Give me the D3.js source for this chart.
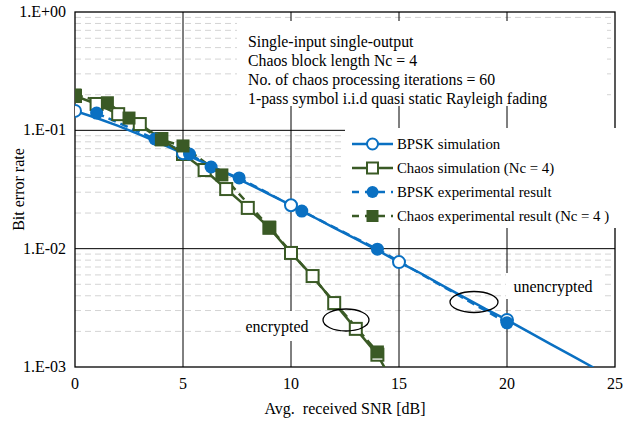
<!DOCTYPE html>
<html>
<head>
<meta charset="utf-8">
<script src="https://cdn.jsdelivr.net/npm/d3@7"></script>
<style>
  body { margin: 0; background: #fff; }
  text { font-family: "Liberation Serif", "Times New Roman", serif; fill: #000; }
</style>
</head>
<body>
<script>
// data
const bpskSimSnr = [0, 1, 2, 3, 4, 5, 6, 7, 8, 9, 10, 11, 12, 13, 14, 15, 16, 17, 18, 19, 20, 21, 22, 23, 24];
const bpskSimBer = [0.146, 0.127, 0.109, 0.092, 0.077, 0.064, 0.053, 0.0435, 0.0355, 0.0288, 0.0233, 0.0187,
    0.0150, 0.0121, 0.0097, 0.0077, 0.0062, 0.0049, 0.0039, 0.0031, 0.0025, 0.00198, 0.00157, 0.00125, 0.00099];
const bpskMarkSnr = [0, 5, 10, 15, 20];

const chaosSimSnr = [0, 1, 2, 3, 4, 5, 6, 7, 8, 9, 10, 11, 12, 13, 14, 15];
const chaosSimBer = [0.195, 0.167, 0.137, 0.113, 0.0845, 0.0631, 0.0462, 0.0319, 0.0221, 0.0150, 0.0092,
    0.00587, 0.00347, 0.00210, 0.00127, 0.0006];

const bpskExpSnr = [1, 3.7, 5.3, 6.3, 7.6, 10.5, 14, 20];
const bpskExpBer = [0.14, 0.0845, 0.063, 0.049, 0.0396, 0.0208, 0.0099, 0.00236];

const chaosExpSnr = [0, 1.5, 2.5, 4, 5, 6.8, 9, 14];
const chaosExpBer = [0.199, 0.171, 0.127, 0.083, 0.0738, 0.042, 0.0152, 0.00134];

const xTicks = [0, 5, 10, 15, 20, 25];
const yTicks = [1, 0.1, 0.01, 0.001];
const yTickLabels = ["1.E+00", "1.E-01", "1.E-02", "1.E-03"];

const infoLines = [
    "Single-input single-output",
    "Chaos block length Nc = 4",
    "No. of chaos processing iterations = 60",
    "1-pass symbol i.i.d quasi static Rayleigh fading"
];
const legendLabels = ["BPSK simulation", "Chaos simulation (Nc = 4)", "BPSK experimental result", "Chaos experimental result (Nc = 4 )"];

const BLUE = "#0A70C2";
const GREEN = "#3A5A25";
const FS = "16px";

const W = 638, H = 423;
const pLeft = 75, pRight = 615, pTop = 12, pBottom = 367;

const x = d3.scaleLinear().domain([0, 25]).range([pLeft, pRight]);
const y = d3.scaleLog().domain([0.001, 1]).range([pBottom, pTop]);

const svg = d3.select("body").append("svg").attr("width", W).attr("height", H)
    .attr("font-family", "Liberation Serif, serif");

svg.append("defs").append("clipPath").attr("id", "plot")
    .append("rect").attr("x", pLeft).attr("y", pTop).attr("width", pRight - pLeft).attr("height", pBottom - pTop);

// minor grid
const minor = [];
[0.001, 0.01, 0.1].forEach(d => { for (let k = 2; k <= 9; k++) minor.push(d * k); });
svg.append("g").selectAll("line").data(minor).join("line")
    .attr("x1", pLeft).attr("x2", pRight)
    .attr("y1", d => y(d)).attr("y2", d => y(d))
    .attr("stroke", "#d4d4d4").attr("stroke-width", 1).attr("stroke-dasharray", "6,4");

// major grid
svg.append("g").selectAll("line").data([0.1, 0.01]).join("line")
    .attr("x1", pLeft).attr("x2", pRight)
    .attr("y1", d => y(d)).attr("y2", d => y(d))
    .attr("stroke", "#000").attr("stroke-width", 1);
svg.append("g").selectAll("line").data([5, 10, 15, 20]).join("line")
    .attr("x1", d => x(d)).attr("x2", d => x(d))
    .attr("y1", pTop).attr("y2", pBottom)
    .attr("stroke", "#000").attr("stroke-width", 1);

// white boxes behind the annotation texts
svg.append("rect").attr("x", 237).attr("y", 21).attr("width", 370).attr("height", 85).attr("fill", "#fff");
svg.append("rect").attr("x", 242).attr("y", 311).attr("width", 72).attr("height", 30).attr("fill", "#fff");
svg.append("rect").attr("x", 506).attr("y", 273).attr("width", 96).attr("height", 26).attr("fill", "#fff");

// plot border
svg.append("rect").attr("x", pLeft).attr("y", pTop).attr("width", pRight - pLeft).attr("height", pBottom - pTop)
    .attr("fill", "none").attr("stroke", "#000").attr("stroke-width", 1.3);

// axes labels
svg.append("g").selectAll("text").data(xTicks).join("text")
    .attr("x", d => x(d)).attr("y", 389).attr("text-anchor", "middle")
    .style("font-size", FS).text(d => d);
svg.append("g").selectAll("text").data(yTicks).join("text")
    .attr("x", 66).attr("y", d => y(d) + 5).attr("text-anchor", "end")
    .style("font-size", FS).text((d, i) => yTickLabels[i]);
svg.append("text").attr("x", 345).attr("y", 414).attr("text-anchor", "middle")
    .style("font-size", FS).style("white-space", "pre").text("Avg.  received SNR [dB]");
svg.append("text").attr("transform", "translate(24," + (pTop + pBottom) / 2 + ") rotate(-90)")
    .attr("text-anchor", "middle").style("font-size", FS).text("Bit error rate");

// info text
svg.append("g").selectAll("text").data(infoLines).join("text")
    .attr("x", 248).attr("y", (d, i) => 47 + i * 19)
    .style("font-size", "15.8px").text(d => d);

// data
const plot = svg.append("g").attr("clip-path", "url(#plot)");
const line = d3.line().x(d => x(d[0])).y(d => y(d[1]));

const bpskSim = bpskSimSnr.map((s, i) => [s, bpskSimBer[i]]);
const chaosSim = chaosSimSnr.map((s, i) => [s, chaosSimBer[i]]);
const bpskExp = bpskExpSnr.map((s, i) => [s, bpskExpBer[i]]);
const chaosExp = chaosExpSnr.map((s, i) => [s, chaosExpBer[i]]);

plot.append("path").attr("d", line(bpskExp)).attr("fill", "none")
    .attr("stroke", BLUE).attr("stroke-width", 2.5).attr("stroke-dasharray", "8,5");
plot.append("path").attr("d", line(chaosExp)).attr("fill", "none")
    .attr("stroke", GREEN).attr("stroke-width", 2.5).attr("stroke-dasharray", "8,5");
plot.append("path").attr("d", line(bpskSim)).attr("fill", "none")
    .attr("stroke", BLUE).attr("stroke-width", 2.5);
plot.append("path").attr("d", line(chaosSim)).attr("fill", "none")
    .attr("stroke", GREEN).attr("stroke-width", 2.5);

const sq = 12;
plot.append("g").selectAll("rect").data(chaosSim.filter(d => d[0] <= 14)).join("rect")
    .attr("x", d => x(d[0]) - sq / 2).attr("y", d => y(d[1]) - sq / 2)
    .attr("width", sq).attr("height", sq)
    .attr("fill", "#fff").attr("stroke", GREEN).attr("stroke-width", 2);
plot.append("g").selectAll("circle").data(bpskSim.filter(d => bpskMarkSnr.includes(d[0]))).join("circle")
    .attr("cx", d => x(d[0])).attr("cy", d => y(d[1])).attr("r", 6)
    .attr("fill", "#fff").attr("stroke", BLUE).attr("stroke-width", 2);
plot.append("g").selectAll("circle").data(bpskExp).join("circle")
    .attr("cx", d => x(d[0])).attr("cy", d => y(d[1])).attr("r", 6.5)
    .attr("fill", BLUE);
plot.append("g").selectAll("rect").data(chaosExp).join("rect")
    .attr("x", d => x(d[0]) - 6.5).attr("y", d => y(d[1]) - 6.5)
    .attr("width", 13).attr("height", 13).attr("fill", GREEN);

// annotations
svg.append("text").attr("x", 277).attr("y", 332).attr("text-anchor", "middle")
    .style("font-size", FS).text("encrypted");
svg.append("text").attr("x", 553).attr("y", 292).attr("text-anchor", "middle")
    .style("font-size", FS).text("unencrypted");
svg.append("ellipse").attr("cx", 346).attr("cy", 320).attr("rx", 23).attr("ry", 11)
    .attr("fill", "none").attr("stroke", "#000").attr("stroke-width", 1.3);
svg.append("ellipse").attr("cx", 474).attr("cy", 302).attr("rx", 24).attr("ry", 10.5)
    .attr("fill", "none").attr("stroke", "#000").attr("stroke-width", 1.3);

// legend
const lg = svg.append("g");
lg.append("rect").attr("x", 345).attr("y", 128).attr("width", 282).attr("height", 100).attr("fill", "#fff");
const legendItems = [
    { color: BLUE, dash: null, mark: "openCircle" },
    { color: GREEN, dash: null, mark: "openSquare" },
    { color: BLUE, dash: "7,6", mark: "dot" },
    { color: GREEN, dash: "7,6", mark: "square" }
];
legendItems.forEach((it, i) => {
    const cy = 144 + i * 24;
    lg.append("line").attr("x1", 352).attr("x2", 393).attr("y1", cy).attr("y2", cy)
        .attr("stroke", it.color).attr("stroke-width", 2.5).attr("stroke-dasharray", it.dash);
    if (it.mark === "openCircle") {
        lg.append("circle").attr("cx", 372.5).attr("cy", cy).attr("r", 5.5)
            .attr("fill", "#fff").attr("stroke", it.color).attr("stroke-width", 2);
    } else if (it.mark === "openSquare") {
        lg.append("rect").attr("x", 367).attr("y", cy - 5.5).attr("width", 11).attr("height", 11)
            .attr("fill", "#fff").attr("stroke", it.color).attr("stroke-width", 2);
    } else if (it.mark === "dot") {
        lg.append("circle").attr("cx", 372.5).attr("cy", cy).attr("r", 6).attr("fill", it.color);
    } else {
        lg.append("rect").attr("x", 366.5).attr("y", cy - 6).attr("width", 12).attr("height", 12).attr("fill", it.color);
    }
    lg.append("text").attr("x", 397).attr("y", cy + 5).style("font-size", "14.8px").text(legendLabels[i]);
});
</script>
</body>
</html>
